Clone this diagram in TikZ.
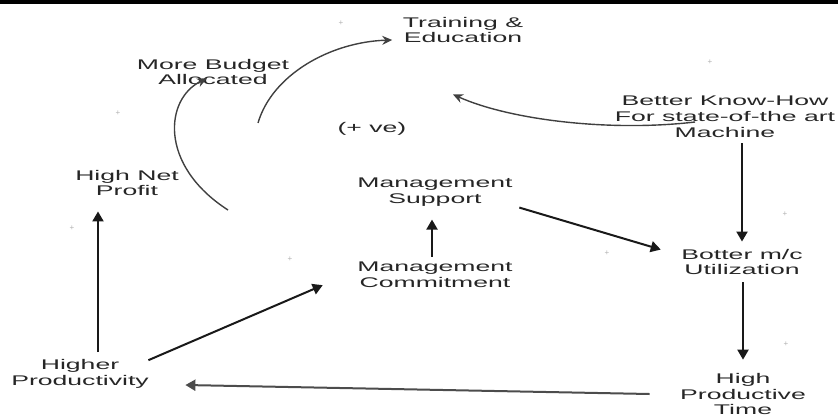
\documentclass[tikz,border=0pt]{standalone}
\usepackage{fontspec}
\setmainfont{Liberation Sans}
\usetikzlibrary{arrows.meta,calc}
\begin{document}
\begin{tikzpicture}[x=0.5pt,y=-0.5pt,
  lbl/.style={align=center, font=\fontsize{7}{7.9}\selectfont, xscale=1.9, transform shape, inner sep=0.5pt, text=black!85},
  arr/.style={line width=1pt, draw=black!90, -{Triangle[length=5pt,width=5.5pt]}},
  carr/.style={line width=0.7pt, draw=black!75, -{Stealth[length=5pt,width=4.5pt]}},
  pm/.style={font=\fontsize{4}{4}\selectfont, text=black!30, inner sep=0pt}]
\useasboundingbox (0,0) rectangle (838,417);
\fill[black] (0,0) rectangle (838,4);
% nodes
\node[lbl] (tr)  at (463,30)  {Training \&\\Education};
\node[lbl] (mb)  at (213,72)  {More Budget\\Allocated};
\node[lbl] (ve)  at (372,129) {(+ ve)};
\node[lbl] (bk)  at (725,117) {Better Know-How\\For state-of-the art\\Machine};
\node[lbl] (hnp) at (127,183) {High Net\\Profit};
\node[lbl] (ms)  at (435,192) {Management\\Support};
\node[lbl] (bu)  at (742,262) {Botter m/c\\Utilization};
\node[lbl] (mc)  at (435,275) {Management\\Commitment};
\node[lbl] (hp)  at (80,374)  {Higher\\Productivity};
\node[lbl] (hpt) at (743,394) {High\\Productive\\Time};
% free ends of curved connectors
\coordinate (c1) at (258,123);
\coordinate (c2) at (228,210);
\coordinate (c3) at (695,122);
% curved connectors
\draw[carr] (c1) .. controls (272,75) and (330,42) .. ($(tr.west)+(-8,10)$);
\draw[carr] (c2) .. controls (158,165) and (165,98) .. ($(mb.south)+(-6,-8)$);
\draw[carr] (c3) .. controls (610,132) and (510,120) .. ($(tr.south)+(-10,50)$);
% straight connectors
\draw[arr] ($(bk.south)+(17,4)$) -- ($(bu.north)+(0,-6)$);
\draw[arr] ($(bu.south)+(1,6)$) -- ($(hpt.north)+(0,-12)$);
\draw[arr] ($(mc.north)+(-3,-4)$) -- ($(ms.south)+(-3,12)$);
\draw[arr] ($(ms.south east)+(4,0)$) -- ($(bu.north west)+(-18,2)$);
\draw[arr, draw=black!70] ($(hpt.west)+(-28,0)$) -- ($(hp.east)+(34,11)$);
\draw[arr] ($(hp.north east)+(-3,2)$) -- ($(mc.south west)+(-32,-4)$);
\draw[arr] ($(hp.north)+(18,-6)$) -- ($(hnp.south)+(-29,14)$);
% faint polarity marks
\node[pm] (p1) at (341,23) {+};
\node[pm] (p2) at (710,62) {+};
\node[pm] (p3) at (118,113) {+};
\node[pm] (p4) at (72,228) {+};
\node[pm] (p5) at (290,259) {+};
\node[pm] (p6) at (607,253) {+};
\node[pm] (p7) at (785,214) {+};
\node[pm] (p8) at (786,344) {+};
\end{tikzpicture}
\end{document}
